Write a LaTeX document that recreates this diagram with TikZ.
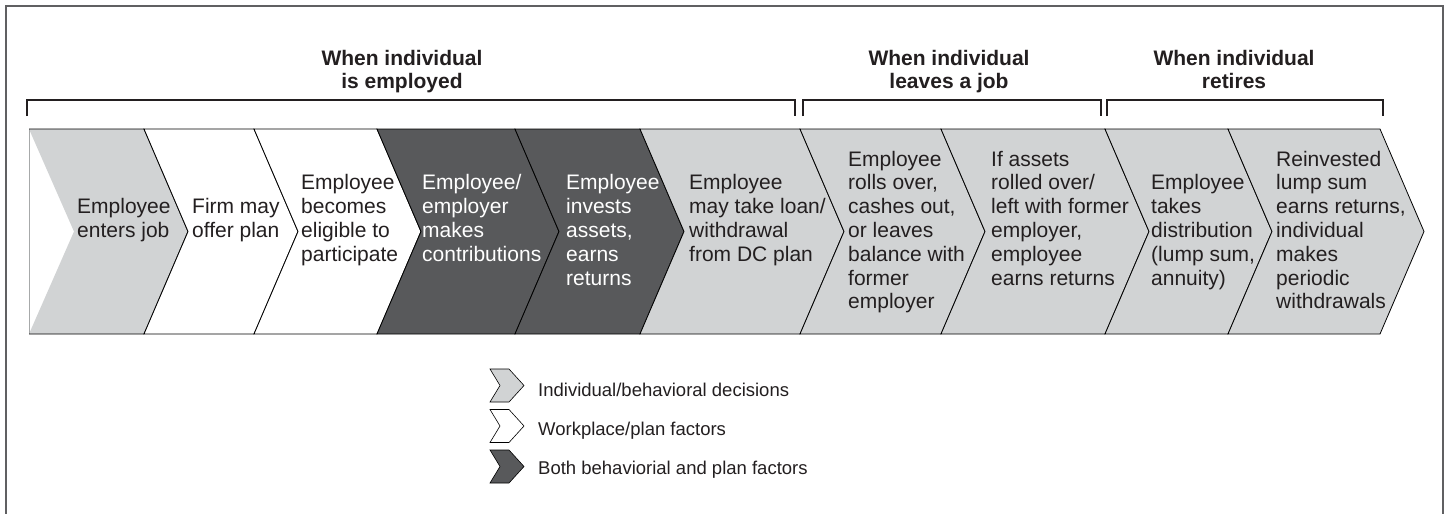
\documentclass[tikz,border=0pt]{standalone}
\usepackage{fontspec}
\setmainfont{Liberation Sans}
\usepackage{tikz}
\definecolor{decisiongray}{RGB}{209,211,212}
\definecolor{bothgray}{RGB}{88,89,91}
\definecolor{inkgray}{RGB}{35,31,32}
\definecolor{framegray}{RGB}{96,96,98}

\tikzset{
  steptext/.style={anchor=north west,inner sep=0pt,align=left,text=inkgray,font=\fontsize{21}{23.8}\selectfont},
  stagehead/.style={anchor=north,inner sep=0pt,align=center,text=inkgray,font=\bfseries\fontsize{21}{23}\selectfont},
  legendtext/.style={anchor=base west,inner sep=0pt,text=inkgray,font=\fontsize{18.5}{22}\selectfont},
  chevline/.style={draw=black,line width=0.8pt},
  bracketline/.style={draw=inkgray,line width=1.3pt}
}
\newcommand{\flowchev}[3]{%
  \filldraw [chevline,fill=#3] (#1,129) -- (#2,129) -- ++(44,102.5) -- (#2,334) -- (#1,334) -- ++(44,-102.5) -- cycle;}
\newcommand{\legendchev}[2]{%
  \filldraw [chevline,line width=0.6pt,fill=#2] (490,{#1-16.5}) -- (509,{#1-16.5}) -- (524,#1) -- (509,{#1+16.5}) -- (490,{#1+16.5}) -- (500,#1) -- cycle;}

\begin{document}
\begin{tikzpicture}[x=1pt,y=-1pt]
\useasboundingbox [fill=white] (0,0) rectangle (1449,514);
\draw [draw=framegray,line width=1.6pt] (6,514) -- (6,6) -- (1443,6) -- (1443,514);

% stages
\draw [bracketline] (27,116) -- (27,100) -- (795,100) -- (795,116);
\draw [bracketline] (803,116) -- (803,100) -- (1101,100) -- (1101,116);
\draw [bracketline] (1107,116) -- (1107,100) -- (1383,100) -- (1383,116);
\node (employedhead) [stagehead] at (402,50) {When individual\\is employed};
\node (leaveshead) [stagehead] at (949,50) {When individual\\leaves a job};
\node (retireshead) [stagehead] at (1234,50) {When individual\\retires};

% chevrons
\fill [decisiongray] (29,129) -- (144,129) -- ++(44,102.5) -- (144,334) -- (29,334) -- ++(45,-102.5) -- cycle;
\draw [draw=decisiongray!80!black,line width=0.5pt] (29,129) -- (29,334);
\draw [chevline] (29,129) -- (144,129) -- ++(44,102.5) -- (144,334) -- (29,334);
\flowchev{144}{254}{white}
\flowchev{254}{377}{white}
\flowchev{377}{515}{bothgray}
\flowchev{515}{640}{bothgray}
\flowchev{640}{800}{decisiongray}
\flowchev{800}{941}{decisiongray}
\flowchev{941}{1105}{decisiongray}
\flowchev{1105}{1228}{decisiongray}
\flowchev{1228}{1380}{decisiongray}

\node (enterjob) [steptext] at (77,196.8)
{
\strut Employee\\enters job
};
\node (offerplan) [steptext] at (192,196.8)
{
\strut Firm may\\offer plan
};
\node (eligible) [steptext] at (301,173)
{
\strut Employee\\becomes\\eligible to\\participate
};
\node (contribute) [steptext,text=white] at (422,173)
{
\strut Employee/\\employer\\makes\\contributions
};
\node (invest) [steptext,text=white] at (566,173)
{
\strut Employee\\invests\\assets,\\earns\\returns
};
\node (loan) [steptext] at (689,173)
{
\strut Employee\\may take loan/\\withdrawal\\from DC plan
};
\node (rollover) [steptext] at (848,149.2)
{
\strut Employee\\rolls over,\\cashes out,\\or leaves\\balance with\\former\\employer
};
\node (formerreturns) [steptext] at (991,149.2)
{
\strut If assets\\rolled over/\\left with former\\employer,\\employee\\earns returns
};
\node (distribution) [steptext] at (1151,173)
{
\strut Employee\\takes\\distribution\\(lump sum,\\annuity)
};
\node (withdrawals) [steptext] at (1276,149.2)
{
\strut Reinvested\\lump sum\\earns returns,\\individual\\makes\\periodic\\withdrawals
};

% legend
\legendchev{385.5}{decisiongray}
\legendchev{426}{white}
\legendchev{466.5}{bothgray}
\node (legdecision) [legendtext] at (538,396) {Individual/behavioral decisions};
\node (legplan) [legendtext] at (538,435.5) {Workplace/plan factors};
\node (legboth) [legendtext] at (538,474.5) {Both behaviorial and plan factors};
\end{tikzpicture}
\end{document}
